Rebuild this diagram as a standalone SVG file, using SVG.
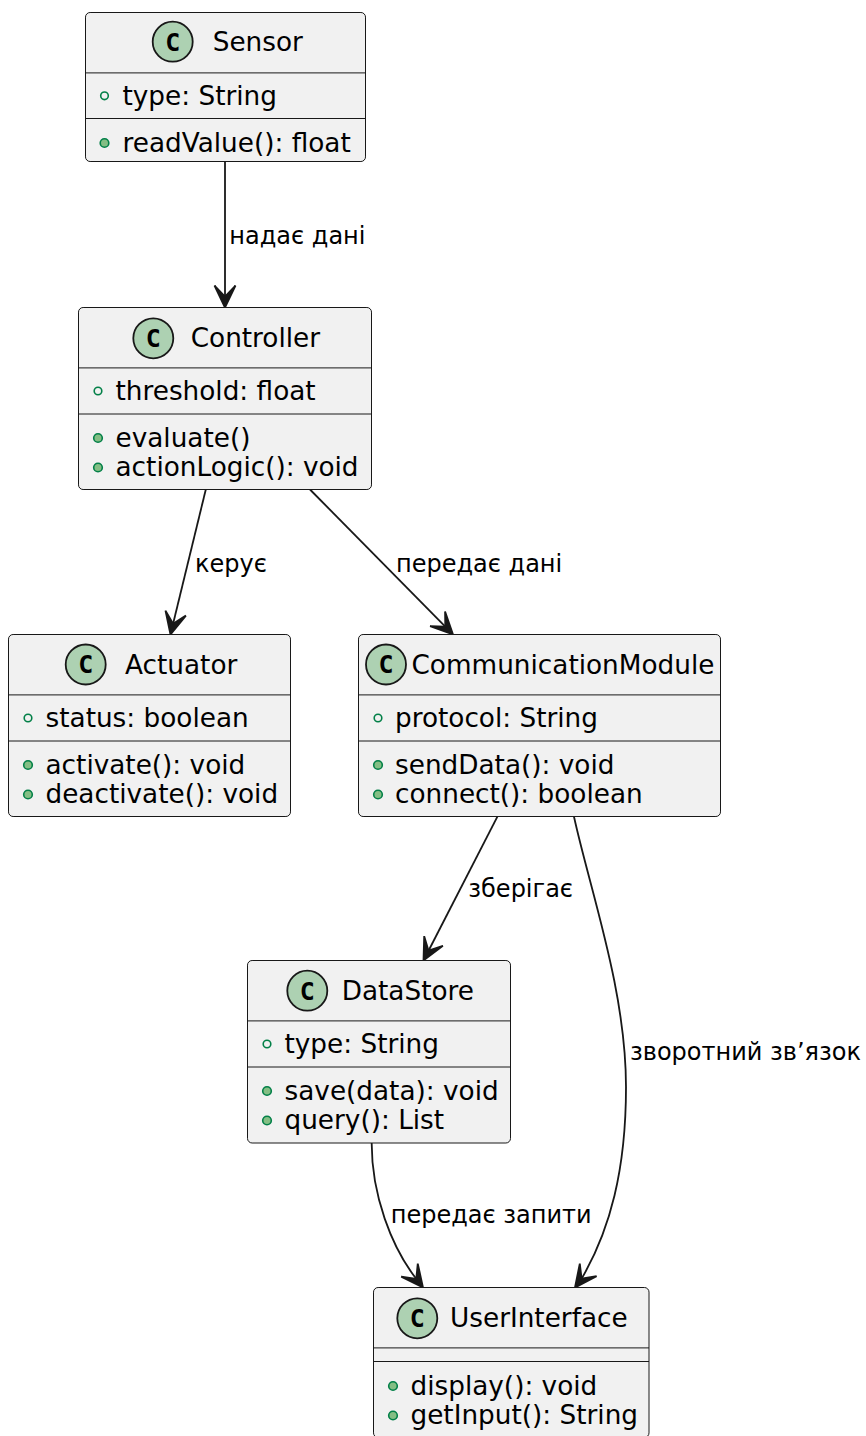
<svg xmlns="http://www.w3.org/2000/svg" width="866" height="1436" viewBox="0 0 866 1436">
<style>
.box{fill:#F1F1F1;stroke:#181818;stroke-width:1}
.div{stroke:#181818;stroke-width:1}
.ci{fill:#ADD1B2;stroke:#181818;stroke-width:1.8}
.cl{font-family:"DejaVu Sans Mono",monospace;font-weight:bold;font-size:25px;fill:#000;text-anchor:middle}
.nm{font-family:"DejaVu Sans",sans-serif;font-size:26.3px;fill:#000}
.mb{font-family:"DejaVu Sans",sans-serif;font-size:26.3px;fill:#000}
.fo{fill:none;stroke:#038048;stroke-width:1.6}
.mf{fill:#84BE84;stroke:#038048;stroke-width:1.6}
.ln{fill:none;stroke:#181818;stroke-width:1.8}
.ah{fill:#181818;stroke:#181818;stroke-width:1.8;stroke-linejoin:miter}
.lb{font-family:"DejaVu Sans",sans-serif;font-size:24px;fill:#000}
</style>
<rect width="866" height="1436" fill="#FFFFFF"/>
<g id="connectors">
<line class="ln" x1="225" y1="162" x2="225" y2="296.5"/>
<polygon class="ah" points="225,307.5 214.5,285.5 225,296.5 235.5,285.5"/>
<text class="lb" x="229.3" y="244.3">надає дані</text>
<line class="ln" x1="205.8" y1="489.5" x2="173.09" y2="623.81"/>
<polygon class="ah" points="170.5,634.5 165.49,610.64 173.09,623.81 185.89,615.6"/>
<text class="lb" x="195" y="571.7">керує</text>
<line class="ln" x1="310" y1="489.5" x2="445.29" y2="626.65"/>
<polygon class="ah" points="453,634.5 430.09,626.17 445.29,626.65 445.07,611.45"/>
<text class="lb" x="396" y="571.7">передає дані</text>
<line class="ln" x1="497.4" y1="816.7" x2="428.53" y2="950.72"/>
<polygon class="ah" points="423.5,960.5 424.21,936.14 428.53,950.72 442.89,945.74"/>
<text class="lb" x="468.3" y="896.7">зберігає</text>
<path class="ln" d="M371.7,1143 C371.5,1195 391.7,1247.3 416.25,1278.82"/>
<polygon class="ah" points="423,1287.5 401.21,1276.59 416.25,1278.82 417.77,1263.69"/>
<text class="lb" x="390.7" y="1223.3">передає запити</text>
<path class="ln" d="M574,816.7 C590,890 626,990 626,1087 C626,1170 610,1230 581.6,1278.7"/>
<polygon class="ah" points="575,1287.5 579.8,1263.6 581.6,1278.7 596.6,1276.2"/>
<text class="lb" x="630" y="1060">зворотний зв’язок</text>
</g>
<g id="Sensor">
<rect class="box" x="85.5" y="12.5" width="280" height="149" rx="4.6"/>
<circle class="ci" cx="172.7" cy="41.7" r="20"/>
<text class="cl" x="172.7" y="50.5">C</text>
<text class="nm" x="212.7" y="51">Sensor</text>
<line class="div" x1="85.5" y1="72.9" x2="365.5" y2="72.9"/>
<circle class="fo" cx="104.5" cy="95.8" r="3.8"/>
<text class="mb" x="122.5" y="104.5">type: String</text>
<line class="div" x1="85.5" y1="118.5" x2="365.5" y2="118.5"/>
<circle class="mf" cx="104.5" cy="143" r="4.3"/>
<text class="mb" x="122.5" y="151.5">readValue(): float</text>
</g>
<g id="Controller">
<rect class="box" x="78.5" y="307.5" width="293" height="182" rx="4.6"/>
<circle class="ci" cx="153.3" cy="338.3" r="20"/>
<text class="cl" x="153.3" y="347.1">C</text>
<text class="nm" x="190.7" y="347">Controller</text>
<line class="div" x1="78.5" y1="367.9" x2="371.5" y2="367.9"/>
<circle class="fo" cx="98" cy="391" r="3.8"/>
<text class="mb" x="115.5" y="399.7">threshold: float</text>
<line class="div" x1="78.5" y1="414" x2="371.5" y2="414"/>
<circle class="mf" cx="98" cy="438" r="4.3"/>
<text class="mb" x="115.5" y="446.5">evaluate()</text>
<circle class="mf" cx="98" cy="467.5" r="4.3"/>
<text class="mb" x="115.5" y="476">actionLogic(): void</text>
</g>
<g id="Actuator">
<rect class="box" x="8.5" y="634.5" width="282" height="182" rx="4.6"/>
<circle class="ci" cx="85.7" cy="664.5" r="20"/>
<text class="cl" x="85.7" y="673.3">C</text>
<text class="nm" x="125" y="674.3">Actuator</text>
<line class="div" x1="8.5" y1="694.9" x2="290.5" y2="694.9"/>
<circle class="fo" cx="28" cy="718" r="3.8"/>
<text class="mb" x="45.5" y="726.7">status: boolean</text>
<line class="div" x1="8.5" y1="741" x2="290.5" y2="741"/>
<circle class="mf" cx="28" cy="765" r="4.3"/>
<text class="mb" x="45.5" y="773.5">activate(): void</text>
<circle class="mf" cx="28" cy="794.5" r="4.3"/>
<text class="mb" x="45.5" y="803">deactivate(): void</text>
</g>
<g id="CommunicationModule">
<rect class="box" x="358.5" y="634.5" width="362" height="182" rx="4.6"/>
<circle class="ci" cx="386" cy="664.5" r="20"/>
<text class="cl" x="386" y="673.3">C</text>
<text class="nm" x="411.5" y="674.3">CommunicationModule</text>
<line class="div" x1="358.5" y1="694.9" x2="720.5" y2="694.9"/>
<circle class="fo" cx="378" cy="718" r="3.8"/>
<text class="mb" x="395" y="726.7">protocol: String</text>
<line class="div" x1="358.5" y1="741" x2="720.5" y2="741"/>
<circle class="mf" cx="378" cy="765" r="4.3"/>
<text class="mb" x="395" y="773.5">sendData(): void</text>
<circle class="mf" cx="378" cy="794.5" r="4.3"/>
<text class="mb" x="395" y="803">connect(): boolean</text>
</g>
<g id="DataStore">
<rect class="box" x="247.5" y="960.5" width="263" height="182.5" rx="4.6"/>
<circle class="ci" cx="307.3" cy="990.7" r="20"/>
<text class="cl" x="307.3" y="999.5">C</text>
<text class="nm" x="341.7" y="1000.3">DataStore</text>
<line class="div" x1="247.5" y1="1020.9" x2="510.5" y2="1020.9"/>
<circle class="fo" cx="267" cy="1044" r="3.8"/>
<text class="mb" x="284.5" y="1052.7">type: String</text>
<line class="div" x1="247.5" y1="1067" x2="510.5" y2="1067"/>
<circle class="mf" cx="267" cy="1091" r="4.3"/>
<text class="mb" x="284.5" y="1099.5">save(data): void</text>
<circle class="mf" cx="267" cy="1120.5" r="4.3"/>
<text class="mb" x="284.5" y="1129">query(): List</text>
</g>
<g id="UserInterface">
<rect class="box" x="373.5" y="1287.5" width="275.5" height="150" rx="4.6"/>
<circle class="ci" cx="417.3" cy="1318.3" r="20"/>
<text class="cl" x="417.3" y="1327.1">C</text>
<text class="nm" x="450" y="1327.3">UserInterface</text>
<line class="div" x1="373.5" y1="1347.9" x2="649" y2="1347.9"/>
<line class="div" x1="373.5" y1="1361.5" x2="649" y2="1361.5"/>
<circle class="mf" cx="393" cy="1386" r="4.3"/>
<text class="mb" x="410.5" y="1394.5">display(): void</text>
<circle class="mf" cx="393" cy="1415.5" r="4.3"/>
<text class="mb" x="410.5" y="1424">getInput(): String</text>
</g>
</svg>
